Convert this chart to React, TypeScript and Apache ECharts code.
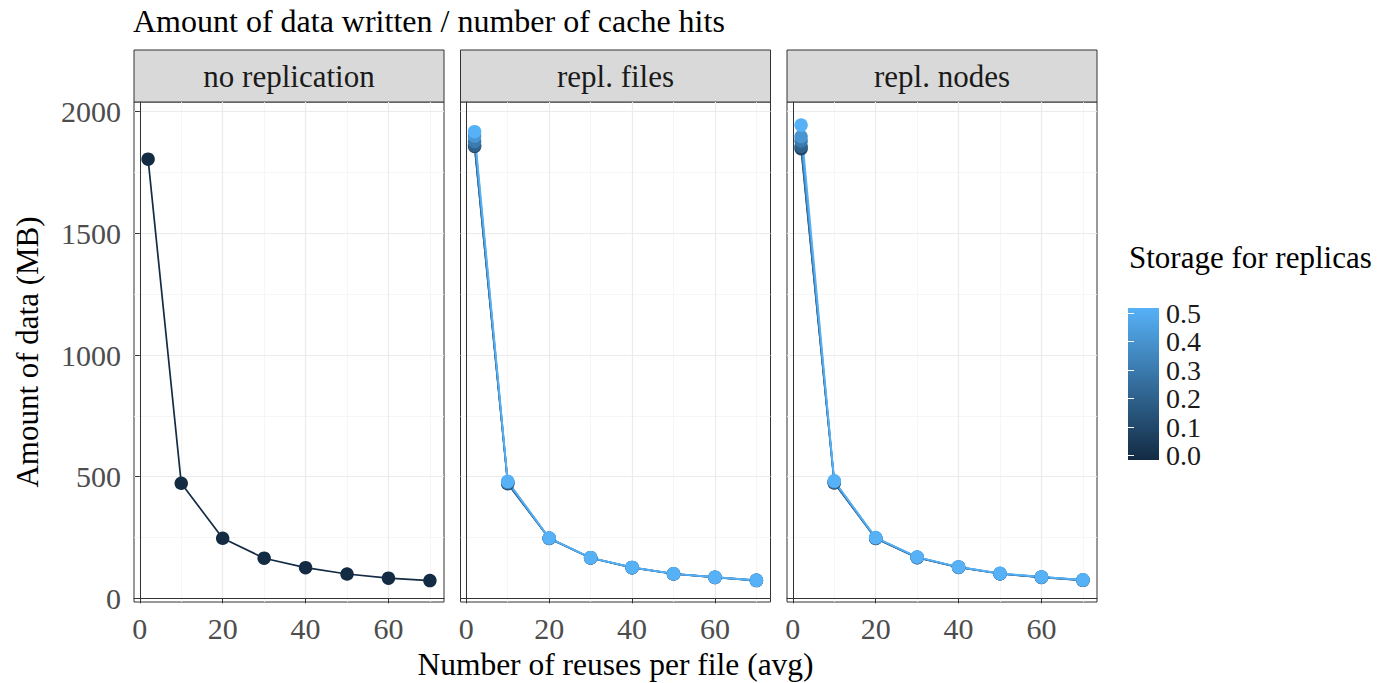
import React, { useEffect, useRef } from 'react';
import * as echarts from 'echarts';

// ---------------- data ----------------
const reuses = [2, 10, 20, 30, 40, 50, 60, 70];
const panelNames = ['no replication', 'repl. files', 'repl. nodes'];
const storageLevels = [0.1, 0.2, 0.3, 0.4, 0.5];

const noReplication = [1805, 473, 247, 165, 126, 100, 83, 73];

const replFiles01 = [1858, 471, 246, 166, 126, 100, 86, 73];
const replFiles02 = [1862, 474, 247, 166, 126, 101, 86, 74];
const replFiles03 = [1878, 477, 247, 167, 127, 101, 87, 74];
const replFiles04 = [1900, 479, 248, 167, 127, 101, 87, 74];
const replFiles05 = [1918, 481, 248, 167, 127, 101, 87, 74];
const replFiles = [replFiles01, replFiles02, replFiles03, replFiles04, replFiles05];

const replNodes01 = [1848, 474, 246, 167, 127, 101, 86, 74];
const replNodes02 = [1858, 477, 247, 168, 128, 101, 87, 75];
const replNodes03 = [1880, 479, 248, 169, 128, 102, 87, 75];
const replNodes04 = [1898, 481, 249, 170, 129, 102, 88, 76];
const replNodes05 = [1945, 483, 250, 170, 129, 103, 88, 76];
const replNodes = [replNodes01, replNodes02, replNodes03, replNodes04, replNodes05];

const xTicks = [0, 20, 40, 60];
const xMinorTicks = [10, 30, 50, 70];
const yTicks = [0, 500, 1000, 1500, 2000];
const yMinorTicks = [250, 750, 1250, 1750];
const legendMin = 0;
const legendMax = 0.5;

// ---------------- style / layout ----------------
const FONT = '"Liberation Serif", "Times New Roman", serif';
const LOW = '#132B43';
const HIGH = '#56B1F7';
const PANEL_LEFTS = [134, 460.5, 787];
const PANEL_W = 310;
const PANEL_TOP = 102;
const PANEL_H = 500;
const STRIP_TOP = 50;

function hexToRgb(h: string) {
  return [1, 3, 5].map((i) => parseInt(h.slice(i, i + 2), 16));
}
function colorFor(v: number) {
  const t = (v - legendMin) / (legendMax - legendMin);
  const a = hexToRgb(LOW);
  const b = hexToRgb(HIGH);
  const c = a.map((x, i) => Math.round(x + (b[i] - x) * t));
  return `rgb(${c[0]},${c[1]},${c[2]})`;
}

function gridSeries(i: number) {
  const major = { color: '#EBEBEB', width: 1.2, type: 'solid' };
  const minor = { color: '#F4F4F4', width: 0.8, type: 'solid' };
  return {
    type: 'line',
    xAxisIndex: i,
    yAxisIndex: i,
    data: [[0, 0]],
    symbol: 'none',
    lineStyle: { width: 0, opacity: 0 },
    silent: true,
    z: 0,
    markLine: {
      silent: true,
      symbol: ['none', 'none'],
      label: { show: false },
      animation: false,
      z: 0,
      data: [
        ...yMinorTicks.map((v) => ({ yAxis: v, lineStyle: minor })),
        ...xMinorTicks.map((v) => ({ xAxis: v, lineStyle: minor })),
        ...yTicks.map((v) => ({ yAxis: v, lineStyle: major })),
        ...xTicks.map((v) => ({ xAxis: v, lineStyle: major })),
      ],
    },
  };
}

function dataSeries(i: number, values: number[], color: string, name: string) {
  return {
    type: 'line',
    name,
    xAxisIndex: i,
    yAxisIndex: i,
    data: reuses.map((x, k) => [x, values[k]]),
    symbol: 'circle',
    symbolSize: 13.5,
    showSymbol: true,
    itemStyle: { color },
    lineStyle: { color, width: 1.7 },
    z: 3,
  };
}

export default function App() {
  const ref = useRef<HTMLDivElement>(null);

  useEffect(() => {
    if (!ref.current) return;
    const chart = echarts.init(ref.current, undefined, { renderer: 'svg' });

    const grids: any[] = PANEL_LEFTS.map((l) => ({
      left: l,
      top: PANEL_TOP,
      width: PANEL_W,
      height: PANEL_H,
      show: true,
      backgroundColor: '#FFFFFF',
      borderColor: '#333333',
      borderWidth: 1,
      containLabel: false,
    }));
    grids.push({ left: 1128, top: 313, width: 31, height: 142.5, show: false });

    const xAxes: any[] = PANEL_LEFTS.map((_, i) => ({
      type: 'value',
      gridIndex: i,
      min: -1.4,
      max: 73.4,
      axisLine: { show: true, lineStyle: { color: '#333333', width: 1 } },
      axisTick: { show: true, length: 5, customValues: xTicks, lineStyle: { color: '#333333' } },
      axisLabel: {
        customValues: xTicks,
        showMinLabel: true,
        showMaxLabel: true,
        hideOverlap: false,
        margin: 11,
        fontSize: 30,
        fontFamily: FONT,
        color: '#4D4D4D',
        formatter: (v: number) => String(v),
      },
      splitLine: { show: false },
    }));
    xAxes.push({ type: 'value', gridIndex: 3, min: 0, max: 1, show: false });

    const yAxes: any[] = PANEL_LEFTS.map((_, i) => ({
      type: 'value',
      gridIndex: i,
      min: -15,
      max: 2040,
      axisLine: { show: true, lineStyle: { color: '#333333', width: 1 } },
      axisTick: { show: i === 0, length: 5, customValues: yTicks, lineStyle: { color: '#333333' } },
      axisLabel: {
        show: i === 0,
        customValues: yTicks,
        showMinLabel: true,
        showMaxLabel: true,
        hideOverlap: false,
        margin: 13,
        fontSize: 30,
        fontFamily: FONT,
        color: '#4D4D4D',
        formatter: (v: number) => String(v),
      },
      splitLine: { show: false },
    }));
    yAxes.push({
      type: 'value',
      gridIndex: 3,
      position: 'right',
      min: legendMin,
      max: legendMax,
      interval: 0.1,
      z: 10,
      axisLine: { show: false },
      axisTick: { show: true, inside: true, length: 6, lineStyle: { color: '#FFFFFF', width: 1 } },
      axisLabel: {
        showMinLabel: true,
        showMaxLabel: true,
        hideOverlap: false,
        margin: 7,
        fontSize: 28,
        lineHeight: 28,
        fontFamily: FONT,
        color: '#1A1A1A',
        formatter: (v: number) => v.toFixed(1),
      },
      splitLine: { show: false },
    });
    yAxes.push({
      type: 'value',
      gridIndex: 3,
      position: 'left',
      min: legendMin,
      max: legendMax,
      interval: 0.1,
      z: 10,
      axisLine: { show: false },
      axisTick: { show: true, inside: true, length: 6, lineStyle: { color: '#FFFFFF', width: 1 } },
      axisLabel: { show: false },
      splitLine: { show: false },
    });

    const series: any[] = [];
    for (let i = 0; i < 3; i++) series.push(gridSeries(i));
    series.push(dataSeries(0, noReplication, LOW, 'no replication'));
    storageLevels.forEach((s, k) => {
      series.push(dataSeries(1, replFiles[k], colorFor(s), `files ${s}`));
    });
    storageLevels.forEach((s, k) => {
      series.push(dataSeries(2, replNodes[k], colorFor(s), `nodes ${s}`));
    });

    const graphic: any[] = [
      {
        type: 'text',
        x: 133,
        y: 21,
        style: {
          text: 'Amount of data written / number of cache hits',
          fontSize: 32,
          fontFamily: FONT,
          fill: '#000000',
          align: 'left',
          verticalAlign: 'middle',
        },
      },
      ...PANEL_LEFTS.flatMap((l, i) => [
        {
          type: 'rect',
          shape: { x: l, y: STRIP_TOP, width: PANEL_W, height: PANEL_TOP - STRIP_TOP },
          style: { fill: '#D9D9D9', stroke: '#333333', lineWidth: 1 },
        },
        {
          type: 'text',
          x: l + PANEL_W / 2,
          y: (STRIP_TOP + PANEL_TOP) / 2,
          style: {
            text: panelNames[i],
            fontSize: 31,
            fontFamily: FONT,
            fill: '#1A1A1A',
            align: 'center',
            verticalAlign: 'middle',
          },
        },
      ]),
      {
        type: 'text',
        x: 27,
        y: PANEL_TOP + PANEL_H / 2,
        rotation: Math.PI / 2,
        style: {
          text: 'Amount of data (MB)',
          fontSize: 31,
          fontFamily: FONT,
          fill: '#000000',
          align: 'center',
          verticalAlign: 'middle',
        },
      },
      {
        type: 'text',
        x: (PANEL_LEFTS[0] + PANEL_LEFTS[2] + PANEL_W) / 2,
        y: 664,
        style: {
          text: 'Number of reuses per file (avg)',
          fontSize: 31.5,
          fontFamily: FONT,
          fill: '#000000',
          align: 'center',
          verticalAlign: 'middle',
        },
      },
      {
        type: 'text',
        x: 1129,
        y: 257,
        style: {
          text: 'Storage for replicas',
          fontSize: 31,
          fontFamily: FONT,
          fill: '#000000',
          align: 'left',
          verticalAlign: 'middle',
        },
      },
      {
        type: 'rect',
        z: 1,
        shape: { x: 1128, y: 308, width: 31, height: 152 },
        style: {
          fill: new echarts.graphic.LinearGradient(0, 0, 0, 1, [
            { offset: 0, color: HIGH },
            { offset: 1, color: LOW },
          ]),
        },
      },
    ];

    chart.setOption({
      animation: false,
      backgroundColor: '#FFFFFF',
      grid: grids,
      xAxis: xAxes,
      yAxis: yAxes,
      series,
      graphic,
    });

    return () => chart.dispose();
  }, []);

  return (
    <div
      ref={ref}
      style={{ position: 'fixed', left: 0, top: 0, width: 1379, height: 683, background: '#fff' }}
    />
  );
}
